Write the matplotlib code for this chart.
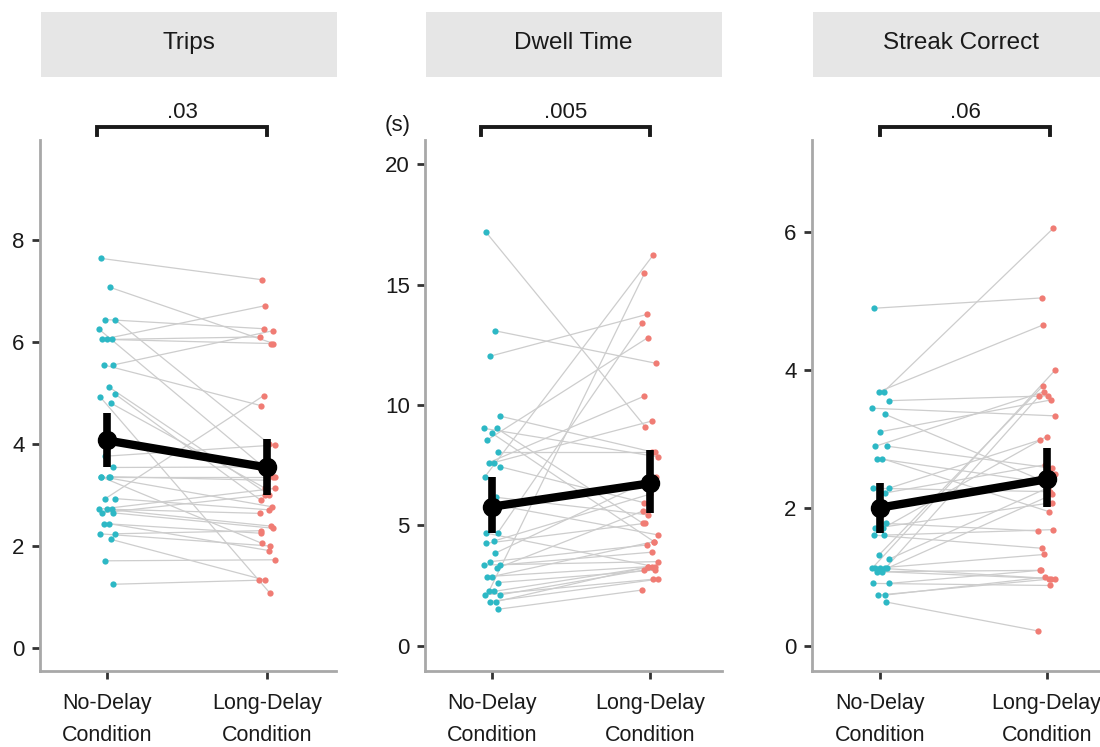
import matplotlib
matplotlib.use("Agg")
import matplotlib.pyplot as plt
from matplotlib.patches import Rectangle

plt.rcParams['font.family'] = ['Liberation Sans', 'DejaVu Sans']

conditions = ["No-Delay\nCondition", "Long-Delay\nCondition"]
panel_titles = ["Trips", "Dwell Time", "Streak Correct"]
p_labels = [".03", ".005", ".06"]

# Trips (per participant: no-delay, long-delay)
trips_no = [7.64, 7.07, 6.44, 6.44, 6.25, 6.05, 6.05, 6.05, 5.55, 5.55, 5.12, 4.98,
            4.93, 4.80, 3.76, 3.54, 3.36, 3.36, 3.36, 3.36, 2.93, 2.93, 2.72, 2.72,
            2.72, 2.65, 2.65, 2.44, 2.44, 2.24, 2.24, 2.13, 1.71, 1.25]
trips_long = [7.22, 5.97, 6.26, 4.01, 3.36, 6.10, 5.97, 6.71, 6.22, 4.75, 3.00, 2.90,
              1.07, 3.13, 3.98, 3.55, 2.77, 3.29, 2.05, 3.36, 4.95, 2.71, 3.13, 2.64,
              2.39, 3.00, 2.35, 2.25, 1.91, 2.30, 2.00, 1.33, 1.73, 1.33]

# Dwell time (s)
dwell_no = [17.19, 13.08, 12.03, 9.54, 9.03, 9.03, 8.83, 8.55, 8.06, 7.61, 7.61, 7.44,
            7.02, 6.17, 5.90, 4.68, 4.68, 4.36, 4.26, 3.85, 3.50, 3.36, 3.36, 3.22,
            2.88, 2.88, 2.63, 2.26, 2.26, 2.12, 2.12, 1.84, 1.84, 1.52]
dwell_long = [9.10, 11.73, 13.76, 8.06, 7.85, 5.09, 4.33, 12.79, 8.06, 10.37, 9.34, 5.95,
              16.22, 5.44, 4.61, 13.39, 3.29, 6.30, 5.09, 7.00, 4.19, 3.89, 3.50, 5.60,
              4.33, 3.29, 3.15, 15.46, 3.29, 3.15, 2.77, 3.29, 2.77, 2.32]

# Streak correct
streak_no = [4.90, 3.69, 3.69, 3.56, 3.45, 3.36, 3.11, 2.90, 2.90, 2.72, 2.72, 2.29,
             2.29, 2.22, 2.00, 1.78, 1.71, 1.71, 1.61, 1.61, 1.32, 1.26, 1.13, 1.13,
             1.13, 1.13, 1.13, 1.08, 1.08, 0.91, 0.91, 0.74, 0.74, 0.64]
streak_long = [5.05, 6.06, 4.66, 3.63, 3.34, 2.42, 3.57, 3.69, 2.58, 2.38, 1.95, 2.99,
               2.24, 2.63, 2.50, 1.67, 2.08, 3.04, 1.42, 1.69, 3.78, 2.30, 4.00, 3.63,
               0.98, 1.33, 2.20, 1.10, 0.98, 1.10, 0.88, 1.00, 0.98, 0.22]

# Condition means and 95% CI bounds
trips_mean = [4.07, 3.54]
trips_lo = [3.54, 3.00]
trips_hi = [4.61, 4.09]
dwell_mean = [5.78, 6.75]
dwell_lo = [4.68, 5.50]
dwell_hi = [7.02, 8.13]
streak_mean = [2.01, 2.42]
streak_lo = [1.64, 2.02]
streak_hi = [2.37, 2.87]

trips_ticks = [0, 2, 4, 6, 8]
dwell_ticks = [0, 5, 10, 15, 20]
streak_ticks = [0, 2, 4, 6]

panels = [
    dict(no=trips_no, long=trips_long, mean=trips_mean, lo=trips_lo, hi=trips_hi,
         ticks=trips_ticks, ylim=(-0.45, 9.96), xlim=(-0.419, 1.431),
         rect=(40, 296), br=(-0.0625, 1.0)),
    dict(no=dwell_no, long=dwell_long, mean=dwell_mean, lo=dwell_lo, hi=dwell_hi,
         ticks=dwell_ticks, ylim=(-1.04, 21.0), xlim=(-0.424, 1.456),
         rect=(425, 297), br=(-0.07, 1.0)),
    dict(no=streak_no, long=streak_long, mean=streak_mean, lo=streak_lo, hi=streak_hi,
         ticks=streak_ticks, ylim=(-0.36, 7.34), xlim=(-0.412, 1.333),
         rect=(812, 290), br=(0.0, 1.02)),
]

# deterministic horizontal jitter pattern (visual spread only)
jit = [-0.04, 0.02, -0.01, 0.05, -0.05, 0.03, 0.0, -0.03, 0.04, -0.02, 0.01,
       0.05, -0.045, 0.025, -0.015, 0.035, -0.035, 0.015]

W, H = 1100, 747
fig = plt.figure(figsize=(11, 7.47), dpi=100)

teal = "#2DB8C5"
salmon = "#F07C74"
ax_top, ax_bot = 140, 671

for i, p in enumerate(panels):
    left_px, width_px = p["rect"]
    ax = fig.add_axes([left_px / W, 1 - ax_bot / H, width_px / W, (ax_bot - ax_top) / H])
    n = len(p["no"])
    for k in range(n):
        j1 = jit[k % len(jit)]
        j2 = jit[(k + 7) % len(jit)]
        ax.plot([0 + j1, 1 + j2], [p["no"][k], p["long"][k]], color="#cdcdcd",
                lw=0.9, zorder=1)
        ax.plot([0 + j1], [p["no"][k]], 'o', color=teal, ms=4.5, mew=0, zorder=2)
        ax.plot([1 + j2], [p["long"][k]], 'o', color=salmon, ms=4.5, mew=0, zorder=2)
    # means with CI
    for c in range(2):
        ax.plot([c, c], [p["lo"][c], p["hi"][c]], color="black", lw=5.5,
                solid_capstyle="butt", zorder=3)
    ax.plot([0, 1], p["mean"], color="black", lw=6, zorder=4)
    ax.plot([0, 1], p["mean"], 'o', color="black", ms=13, zorder=5)

    ax.set_xlim(*p["xlim"])
    ax.set_ylim(*p["ylim"])
    ax.set_xticks([0, 1])
    ax.set_xticklabels(conditions)
    ax.set_yticks(p["ticks"])
    for s in ["top", "right"]:
        ax.spines[s].set_visible(False)
    for s in ["left", "bottom"]:
        ax.spines[s].set_color("#a8a8a8")
        ax.spines[s].set_linewidth(2)
    ax.tick_params(axis="both", colors="#333333", width=2, length=6,
                   labelsize=16, labelcolor="#1a1a1a", pad=5)
    ax.tick_params(axis="x", labelsize=15.5, pad=10)
    ax.set_facecolor("none")
    for lab in ax.get_xticklabels():
        lab.set_linespacing(1.65)

    # significance bracket
    trans = ax.get_xaxis_transform()
    b0, b1 = p["br"]
    ax.plot([b0, b0, b1, b1], [1.009, 1.0245, 1.0245, 1.009], transform=trans,
            color="#1a1a1a", lw=2.8, clip_on=False, solid_joinstyle="miter")
    ax.text((b0 + b1) / 2, 1.032, p_labels[i], transform=trans, ha="center",
            va="bottom", fontsize=16, color="#1a1a1a")

    # strip header
    hx0 = (left_px + 1) / W
    hx1 = min(left_px + 297, W) / W
    fig.patches.append(Rectangle((hx0, 1 - 77 / H), hx1 - hx0, 65 / H,
                                 transform=fig.transFigure, facecolor="#e6e6e6",
                                 edgecolor="none", zorder=0))
    fig.text((hx0 + min(left_px + 296, 1108) / W) / 2, 1 - 43 / H, panel_titles[i],
             ha="center", va="center", fontsize=17.5, color="#1a1a1a")

    if i == 1:
        ax.text(-0.091, 1.028, "(s)", transform=ax.transAxes, ha="center",
                va="center", fontsize=16, color="#1a1a1a")

fig.savefig("out.png", dpi=100, facecolor="white")
